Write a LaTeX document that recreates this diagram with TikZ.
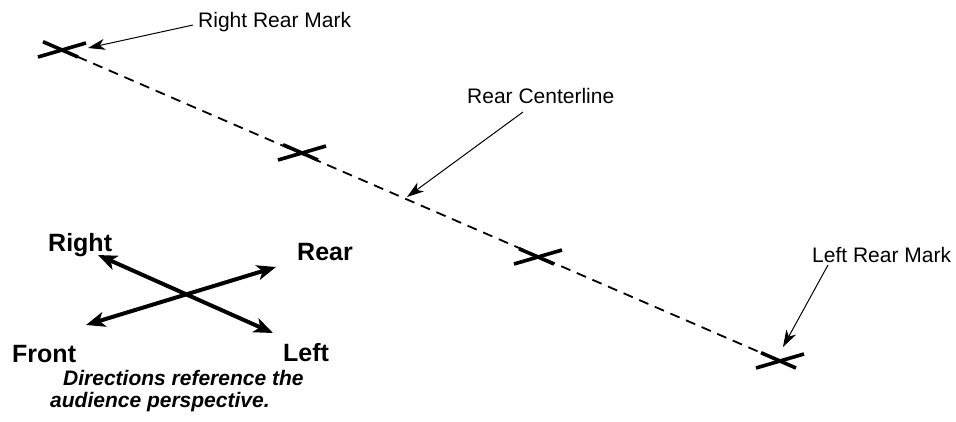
\documentclass[tikz,border=0pt]{standalone}
\usepackage{fontspec}
\setmainfont{Liberation Sans}
\usetikzlibrary{arrows.meta}
\tikzset{
  lbl/.style={inner sep=0pt, anchor=base west, font=\fontsize{21}{25}\selectfont},
  dirlbl/.style={inner sep=0pt, anchor=base west, font=\fontsize{25}{30}\selectfont\bfseries},
  notelbl/.style={inner sep=0pt, anchor=base west, font=\fontsize{21}{25}\selectfont\bfseries\itshape},
  callout/.style={line width=1pt, -{Stealth[length=17pt,width=11pt,inset=5pt]}},
  dirarrow/.style={line width=4pt, {Stealth[length=19pt,width=15pt,inset=5pt]}-{Stealth[length=19pt,width=15pt,inset=5pt]}},
  markstroke/.style={line width=3.6pt},
  centerline/.style={line width=1.8pt, dash pattern=on 10pt off 7pt}
}
\newcommand\drawmarkat[1]{%
  \draw[markstroke] ($(#1)+(-24,7)$) -- ($(#1)+(24,-7)$);
  \draw[markstroke] ($(#1)+(-19,-8.3)$) -- ($(#1)+(16,7)$);
}
\usetikzlibrary{calc}
\begin{document}
\begin{tikzpicture}[x=1pt,y=-1pt]
\useasboundingbox (0,0) rectangle (956,421);
% mark centres
\coordinate (m1) at (62,50);
\coordinate (m2) at (302,153);
\coordinate (m3) at (538,257);
\coordinate (m4) at (780,361);
% dashed centreline
\draw[centerline] (m1) -- (m4);
\drawmarkat{m1}
\drawmarkat{m2}
\drawmarkat{m3}
\drawmarkat{m4}
% labels
\node[lbl] (rrm) at (198,27) {Right Rear Mark};
\node[lbl] (rcl) at (467,103) {Rear Centerline};
\node[lbl] (lrm) at (812,262) {Left Rear Mark};
% callout arrows
\coordinate (rrmS) at (193,25);
\coordinate (rrmT) at (88,48);
\coordinate (rclS) at (523,112);
\coordinate (rclT) at (407,197);
\coordinate (lrmS) at (828,265);
\coordinate (lrmT) at (783,347);
\draw[callout] (rrmS) -- (rrmT);
\draw[callout] (rclS) -- (rclT);
\draw[callout] (lrmS) -- (lrmT);
% direction compass
\coordinate (dR) at (98,255);
\coordinate (dL) at (273,333);
\coordinate (dB) at (276,267);
\coordinate (dF) at (86,325);
\draw[dirarrow] (dR) -- (dL);
\draw[dirarrow] (dF) -- (dB);
\node[dirlbl] (tR) at (48,251) {Right};
\node[dirlbl] (tB) at (297,260) {Rear};
\node[dirlbl] (tF) at (12,362) {Front};
\node[dirlbl] (tL) at (283,361) {Left};
\node[notelbl] (n1) at (63,385) {Directions reference the};
\node[notelbl] (n2) at (50,407) {audience perspective.};
\end{tikzpicture}
\end{document}
